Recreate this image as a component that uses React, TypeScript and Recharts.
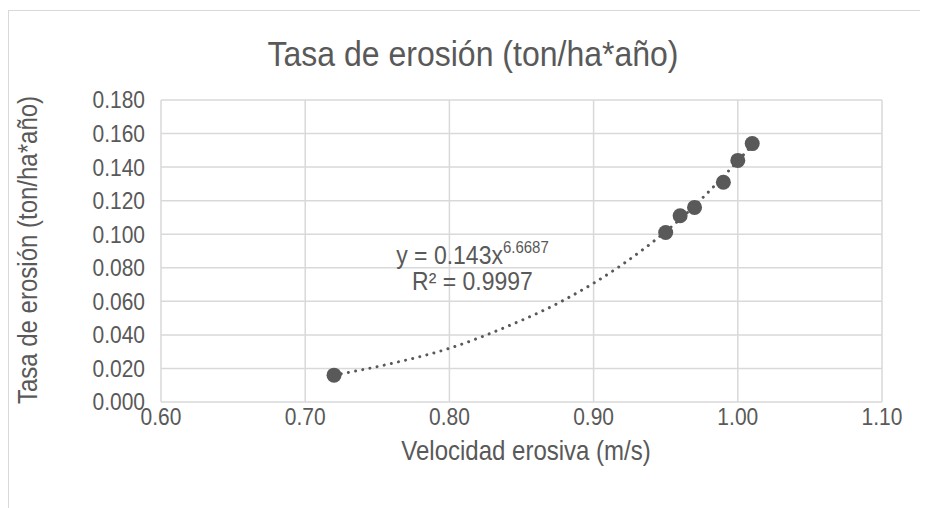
import React from 'react';
import {
  ComposedChart,
  Scatter,
  Line,
  XAxis,
  YAxis,
  CartesianGrid,
  ReferenceDot,
} from 'recharts';

const velocity = [0.72, 0.95, 0.96, 0.97, 0.99, 1.0, 1.01];
const erosionRate = [0.016, 0.101, 0.111, 0.116, 0.131, 0.144, 0.154];

// trendline
const trendVelocity = [0.72, 0.76, 0.8, 0.84, 0.88, 0.92, 0.96, 1.01];
const trendRate = [0.016, 0.023, 0.032, 0.045, 0.061, 0.082, 0.109, 0.153];

const xTicks = [0.6, 0.7, 0.8, 0.9, 1.0, 1.1];
const yTicks = [0, 0.02, 0.04, 0.06, 0.08, 0.1, 0.12, 0.14, 0.16, 0.18];

const equation = { x: 0.816, y: 0.0785, text: 'y = 0.143x', exp: '6.6687', r2: 'R² = 0.9997' };

const points = velocity.map((x, i) => ({ x, y: erosionRate[i] }));
const trend = trendVelocity.map((x, i) => ({ x, y: trendRate[i] }));

const FONT = '"Liberation Sans", Arial, sans-serif';
const GREY = '#595959';
const GRID = '#d9d9d9';
const STRETCH = 1.12;

const XTick = (props: any) => {
  const { x, y, payload } = props;
  return (
    <g transform={`translate(${x},${y}) scale(1,${STRETCH})`}>
      <text x={0} y={0} dy="0.72em" textAnchor="middle" fill={GREY} fontSize={21} fontFamily={FONT}>
        {payload.value.toFixed(2)}
      </text>
    </g>
  );
};

const YTick = (props: any) => {
  const { x, y, payload } = props;
  return (
    <g transform={`translate(${x},${y}) scale(1,${STRETCH})`}>
      <text x={0} y={0} dy="0.36em" textAnchor="end" fill={GREY} fontSize={21} fontFamily={FONT}>
        {payload.value.toFixed(3)}
      </text>
    </g>
  );
};

const EquationLabel = (props: any) => {
  const { viewBox } = props;
  return (
    <g transform={`translate(${viewBox.x},${viewBox.y}) scale(1,${STRETCH})`} fontFamily={FONT} fill={GREY}>
      <text x={0} y={-6} textAnchor="middle" fontSize={23}>
        {equation.text}
        <tspan fontSize={15} dy={-9}>{equation.exp}</tspan>
      </text>
      <text x={0} y={18} textAnchor="middle" fontSize={23}>
        {equation.r2}
      </text>
    </g>
  );
};

const Dot = (props: any) => <circle cx={props.cx} cy={props.cy} r={7.5} fill={GREY} />;

export default function App() {
  return (
    <div style={{ position: 'relative', width: 920, height: 500, fontFamily: FONT }}>
      <div
        style={{
          position: 'absolute',
          left: 0,
          top: 2,
          width: 940,
          height: 520,
          borderTop: `1.5px solid ${GRID}`,
          borderLeft: `1.5px solid ${GRID}`,
        }}
      />
      <div
        style={{
          position: 'absolute',
          left: 0,
          width: 930,
          top: 28,
          textAlign: 'center',
          fontSize: 32,
          color: GREY,
          transform: `scaleY(${STRETCH})`,
        }}
      >
        Tasa de erosión (ton/ha*año)
      </div>
      <div
        style={{
          position: 'absolute',
          left: 0,
          width: 1036,
          top: 429,
          textAlign: 'center',
          fontSize: 24,
          color: GREY,
          transform: `scaleY(${STRETCH})`,
          whiteSpace: 'nowrap',
        }}
      >
        Velocidad erosiva (m/s)
      </div>
      <div style={{ position: 'absolute', left: 20, top: 242, width: 0, height: 0 }}>
        <div
          style={{
            position: 'absolute',
            left: -200,
            top: -14,
            width: 400,
            textAlign: 'center',
            fontSize: 24,
            color: GREY,
            whiteSpace: 'nowrap',
            transform: `rotate(-90deg) scaleY(${STRETCH})`,
          }}
        >
          Tasa de erosión (ton/ha*año)
        </div>
      </div>
      <ComposedChart
        width={920}
        height={500}
        margin={{ top: 92, right: 46, left: 0, bottom: 0 }}
        style={{ position: 'absolute', left: 0, top: 0 }}
      >
        <CartesianGrid stroke={GRID} strokeWidth={1.5} />
        <XAxis
          type="number"
          dataKey="x"
          domain={[0.6, 1.1]}
          ticks={xTicks}
          axisLine={false}
          tickLine={false}
          tickMargin={0}
          height={106}
          tick={<XTick />}
          allowDataOverflow
        />
        <YAxis
          type="number"
          domain={[0, 0.18]}
          ticks={yTicks}
          axisLine={false}
          tickLine={false}
          tickMargin={10}
          width={153}
          tick={<YTick />}
        />
        <Line
          data={trend}
          dataKey="y"
          type="monotone"
          stroke={GREY}
          strokeWidth={3}
          strokeDasharray="0.01 7.3"
          strokeLinecap="round"
          dot={false}
          activeDot={false}
          isAnimationActive={false}
        />
        <Scatter data={points} dataKey="y" fill={GREY} shape={<Dot />} isAnimationActive={false} />
        <ReferenceDot
          x={equation.x}
          y={equation.y}
          r={0}
          fill="none"
          stroke="none"
          label={<EquationLabel />}
        />
      </ComposedChart>
    </div>
  );
}
